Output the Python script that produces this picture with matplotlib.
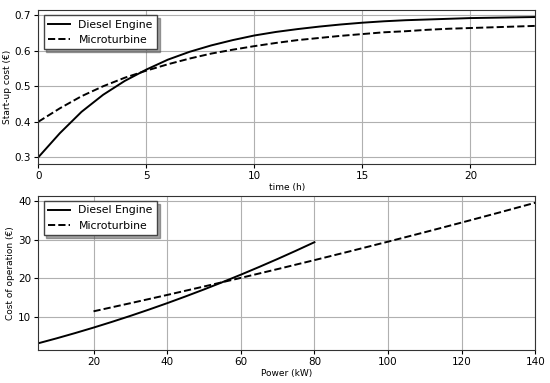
import matplotlib

matplotlib.use("Agg")
import matplotlib.pyplot as plt

# start-up cost vs hours off
hours = list(range(24))
diesel_startup = [0.300, 0.368, 0.428, 0.476, 0.515, 0.547, 0.575, 0.597, 0.615, 0.630,
                  0.643, 0.653, 0.661, 0.668, 0.674, 0.679, 0.683, 0.686, 0.688, 0.690,
                  0.692, 0.693, 0.694, 0.695]
micro_startup = [0.400, 0.438, 0.472, 0.500, 0.524, 0.544, 0.562, 0.578, 0.592, 0.603,
                 0.613, 0.622, 0.630, 0.636, 0.642, 0.647, 0.652, 0.655, 0.659, 0.662,
                 0.664, 0.666, 0.668, 0.670]

# operating cost vs power
diesel_power = [5, 10, 15, 20, 25, 30, 35, 40, 45, 50, 55, 60, 65, 70, 75, 80]
diesel_cost = [3.26, 4.54, 5.89, 7.30, 8.78, 10.32, 11.93, 13.60, 15.34, 17.14,
               19.01, 20.94, 22.94, 25.00, 27.13, 29.32]
micro_power = [20, 30, 40, 50, 60, 70, 80, 90, 100, 110, 120, 130, 140]
micro_cost = [11.50, 13.59, 15.72, 17.90, 20.12, 22.39, 24.70, 27.06, 29.46,
              31.90, 34.39, 36.92, 39.50]

plt.rcParams["font.family"] = ["DejaVu Sans"]
fig = plt.figure(figsize=(5.5, 3.83), dpi=100)
ax1 = fig.add_axes([38.3 / 550, 1 - 164.3 / 383, 497 / 550, 154.3 / 383])
ax2 = fig.add_axes([38.3 / 550, 1 - 350.3 / 383, 497 / 550, 154.6 / 383])

legend_kw = dict(loc="upper left", fontsize=7.8, fancybox=False, shadow=True,
                 framealpha=1, edgecolor="#444444")

ax1.plot(hours, diesel_startup, "k-", lw=1.4, label="Diesel Engine")
ax1.plot(hours, micro_startup, "k--", lw=1.4, label="Microturbine")
ax1.set_xlim(0, 23)
ax1.set_xticks([0, 5, 10, 15, 20])
ax1.set_yticks([0.3, 0.4, 0.5, 0.6, 0.7])
ax1.set_xlabel("time (h)", fontsize=6.5, labelpad=1)
ax1.set_ylabel("Start-up cost (€)", fontsize=6.5, labelpad=2)
ax1.legend(**legend_kw)

ax2.plot(diesel_power, diesel_cost, "k-", lw=1.4, label="Diesel Engine")
ax2.plot(micro_power, micro_cost, "k--", lw=1.4, label="Microturbine")
ax2.set_xlim(5, 140)
ax2.set_xticks([20, 40, 60, 80, 100, 120, 140])
ax2.set_yticks([10, 20, 30, 40])
ax2.set_xlabel("Power (kW)", fontsize=6.5, labelpad=1)
ax2.set_ylabel("Cost of operation (€)", fontsize=6.5, labelpad=2)
ax2.legend(**legend_kw)

for ax in (ax1, ax2):
    ax.grid(True, color="#b0b0b0", lw=0.8)
    ax.tick_params(labelsize=7.5, length=3, pad=2)
    for s in ax.spines.values():
        s.set_color("#333333")

fig.savefig("out.png", dpi=100)
